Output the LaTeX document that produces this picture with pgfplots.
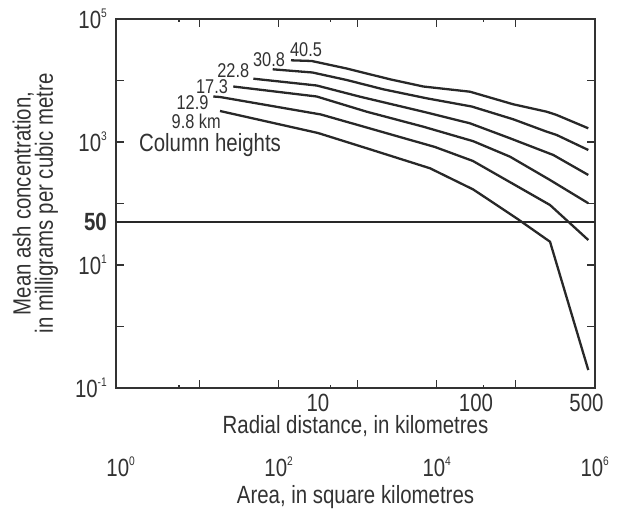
\documentclass[border=0pt]{standalone}
\usepackage{fontspec}
\setmainfont{Liberation Sans}[FakeStretch=0.82]
\usepackage{pgfplots}
\pgfplotsset{compat=1.18}
\definecolor{ink}{RGB}{40,40,40}
\definecolor{txt}{RGB}{50,50,50}
\newcommand{\tp}[1]{10\raisebox{10.5bp}{\fontsize{12.5}{12.5}\selectfont #1}}
\pgfplotsset{
  every axis/.append style={font=\fontsize{25}{30}\selectfont},
  every tick label/.append style={font=\fontsize{25}{30}\selectfont, text=txt},
}
\tikzset{curve/.style={draw=ink, line width=2.3bp, mark=none, line join=round}}
\begin{document}
\begin{tikzpicture}
\useasboundingbox (-116bp,-122bp) rectangle (505bp,388bp);
\begin{axis}[
  at={(0,0)}, anchor=south west,
  scale only axis, width=479bp, height=369bp,
  xmode=log, ymode=log,
  xmin=0.527, xmax=566.5, ymin=0.1, ymax=100000,
  axis line style={draw=txt, line width=1.8bp},
  tick style={draw=txt, line width=1.2bp},
  major tick length=8bp, minor tick length=3.5bp,
  xtick={1.784,5.642,17.84,56.42,178.4},
  xticklabels={{},{},{},{},{}},
  minor xtick={1.32,12.0,111},
  yminorticks=false,
  extra x ticks={10,100,500},
  extra x tick labels={10,100,500},
  extra x tick style={major tick length=0pt},
  xticklabel style={anchor=base, yshift=-23.5bp, inner sep=0pt},
  ytick={0.1,1,10,100,1000,10000,100000},
  yticklabels={{\tp{-1}},{},{\tp{1}},{},{\tp{3}},{},{\tp{5}}},
  yticklabel style={anchor=east, inner sep=0pt, xshift=-9bp},
  extra y ticks={50},
  extra y tick labels={\textbf{50}},
  extra y tick style={major tick length=0pt, grid=major,
     major grid style={draw=ink, line width=2.8bp}},
  xlabel={Radial distance, in kilometres},
  xlabel style={at={(axis description cs:0.5,-0.1220)}, anchor=base, inner sep=0pt, text=txt},
  ylabel={Mean ash concentration,\\in milligrams per cubic metre},
  ylabel style={align=center, font=\fontsize{25}{20}\selectfont,
     at={(axis description cs:-0.1206,0.5)}, anchor=south, inner sep=0pt, text=txt},
]
% 40.5 km
\addplot[curve] coordinates {(6.75,21300) (9.12,20760) (15.19,15670) (28.56,10460) (46.4,7988) (91.6,6574) (172.2,4102) (280.2,3109) (324.2,2748) (513.7,1671)};
% 30.8 km
\addplot[curve] coordinates {(5.17,15210) (9.23,13490) (15.19,10190) (25.9,7193) (48.75,5135) (93.9,3777) (172.2,2339) (280.2,1471) (324.2,1300) (513.7,741)};
% 22.8 km
\addplot[curve] coordinates {(3.90,10700) (9.81,8293) (18.45,5453) (46.4,3109) (91.6,2014) (164.2,1149) (308.5,615) (513.7,291)};
% 17.3 km
\addplot[curve] coordinates {(2.91,7988) (9.81,5494) (20.33,3109) (46.4,1774) (96.1,1030) (164.2,577) (294.1,241) (513.7,101)};
% 12.9 km
\addplot[curve] coordinates {(2.175,5494) (2.398,5392) (10.45,2800) (55.03,829) (95.7,491) (294.1,94.5) (513.7,25.5)};
% 9.8 km
\addplot[curve] coordinates {(2.398,3192) (10,1401) (21.34,761) (51.15,374) (96.1,169) (180.9,57.4) (294.1,23.9) (513.7,0.196)};
\end{axis}
\begin{axis}[
  at={(0,0)}, anchor=south west,
  scale only axis, width=479bp, height=369bp,
  xmode=log, xmin=0.8725, xmax=1.0082e6, ymin=0, ymax=1,
  axis line style={draw=none}, tick style={draw=none},
  major tick length=0pt, minor tick length=0pt,
  xminorticks=false, yminorticks=false,
  xtick={1,100,10000,1000000},
  xticklabels={{\tp{0}},{\tp{2}},{\tp{4}},{\tp{6}}},
  ytick=\empty,
  xticklabel style={anchor=base, yshift=-88bp, inner sep=0pt},
  xlabel={Area, in square kilometres},
  xlabel style={at={(axis description cs:0.5,-0.3117)}, anchor=base, inner sep=0pt, text=txt},
]
\end{axis}
\begin{scope}[every node/.style={anchor=base, inner sep=0pt, text=txt, font=\fontsize{20}{24}\selectfont}]
\node at (190bp,331bp) {40.5};
\node at (153bp,321.3bp) {30.8};
\node at (117.3bp,310.7bp) {22.8};
\node at (96bp,294bp) {17.3};
\node at (76.5bp,278bp) {12.9};
\node at (80.2bp,259bp) {9.8 km};
\node[font=\fontsize{25}{30}\selectfont] at (94bp,236.5bp) {Column heights};
\end{scope}
\end{tikzpicture}
\end{document}
